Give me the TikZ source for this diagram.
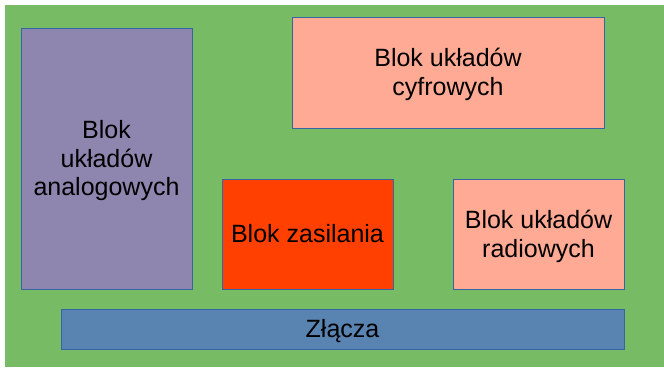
\documentclass[tikz,border=0pt]{standalone}
\usepackage{fontspec}
\setmainfont{Liberation Sans}
\definecolor{pcbgreen}{RGB}{119,188,101}
\definecolor{blkedge}{RGB}{52,101,164}
\definecolor{blkviolet}{RGB}{142,134,174}
\definecolor{blksalmon}{RGB}{255,170,149}
\definecolor{blkred}{RGB}{255,64,0}
\definecolor{blksteel}{RGB}{89,131,176}
% one line of block text: font ascent and descent
\newcommand{\blkstrut}{\rule[-5.3pt]{0pt}{27.9pt}}

\begin{document}
\begin{tikzpicture}[
    x=1pt, y=-1pt,
    % Blocks of the board layout, sizes in pixels of the drawing.
    block/.style={
        draw=blkedge,
        line width=0.8pt,
        align=center,
        inner sep=0pt,
        font=\fontsize{25}{28.7}\selectfont,
        text=black
    },
    analogbox/.style={block, fill=blkviolet},
    digitalbox/.style={block, fill=blksalmon},
    powerbox/.style={block, fill=blkred},
    linkbox/.style={block, fill=blksteel}
]
    \useasboundingbox (0,0) rectangle (664,367);
    \fill[pcbgreen] (5,5) rectangle (664,367);

    \node[analogbox, minimum width=171pt, minimum height=261pt] (analog) at (106.5,158.5)
        {\blkstrut Blok\\\blkstrut układów\\\blkstrut analogowych};
    \node[digitalbox, minimum width=312pt, minimum height=111pt] (digital) at (448,72.5)
        {\blkstrut Blok układów\\\blkstrut cyfrowych};
    \node[powerbox, minimum width=171pt, minimum height=110pt] (power) at (307.5,234)
        {\blkstrut Blok zasilania};
    \node[digitalbox, minimum width=171pt, minimum height=110pt] (radio) at (538.5,234)
        {\blkstrut Blok układów\\\blkstrut radiowych};
    \node[linkbox, minimum width=563pt, minimum height=40pt] (connector) at (342.5,329)
        {\blkstrut Złącza};
\end{tikzpicture}
\end{document}
